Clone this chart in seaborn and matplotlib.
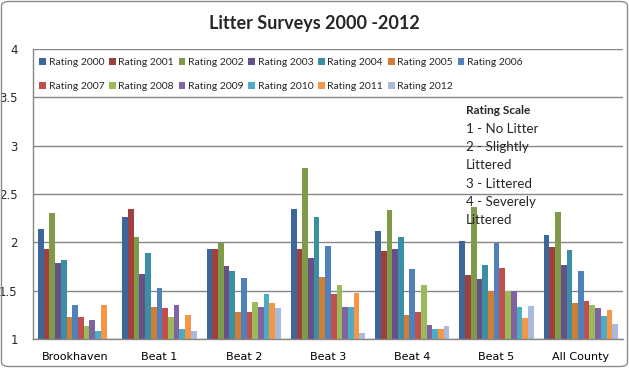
import numpy as np
import pandas as pd
import matplotlib
matplotlib.use('Agg')
import matplotlib.pyplot as plt
import seaborn as sns
from matplotlib.patches import Patch, FancyBboxPatch

# Areas surveyed
areas = ['Brookhaven', 'Beat 1', 'Beat 2', 'Beat 3', 'Beat 4', 'Beat 5', 'All County']
years = ['Rating 2000', 'Rating 2001', 'Rating 2002', 'Rating 2003', 'Rating 2004',
         'Rating 2005', 'Rating 2006', 'Rating 2007', 'Rating 2008', 'Rating 2009',
         'Rating 2010', 'Rating 2011', 'Rating 2012']

# Average rating per area, one list per year
r2000 = [2.14, 2.26, 1.93, 2.35, 2.12, 2.01, 2.08]
r2001 = [1.93, 2.35, 1.93, 1.93, 1.91, 1.66, 1.95]
r2002 = [2.30, 2.06, 1.99, 2.77, 2.33, 2.37, 2.31]
r2003 = [1.79, 1.67, 1.76, 1.84, 1.93, 1.62, 1.77]
r2004 = [1.82, 1.89, 1.70, 2.26, 2.06, 1.77, 1.92]
r2005 = [1.23, 1.33, 1.28, 1.64, 1.25, 1.50, 1.37]
r2006 = [1.35, 1.53, 1.63, 1.96, 1.72, 1.99, 1.70]
r2007 = [1.23, 1.32, 1.28, 1.47, 1.28, 1.73, 1.39]
r2008 = [1.13, 1.23, 1.38, 1.56, 1.56, 1.50, 1.35]
r2009 = [1.20, 1.35, 1.33, 1.33, 1.15, 1.50, 1.32]
r2010 = [1.08, 1.10, 1.47, 1.33, 1.10, 1.33, 1.24]
r2011 = [1.35, 1.25, 1.37, 1.48, 1.10, 1.22, 1.30]
r2012 = [np.nan, 1.08, 1.32, 1.06, 1.13, 1.34, 1.16]

scale_title = 'Rating Scale'
scale_lines = ['1 - No Litter', '2 - Slightly', 'Littered', '3 - Littered',
               '4 - Severely', 'Littered']

colors = ['#3d679c', '#9e403d', '#7f9a48', '#674f87', '#3b8fa5', '#d07d38',
          '#4f81bd', '#c0504d', '#9bbb59', '#8064a2', '#4bacc6', '#f79646', '#a9bbdc']

series = [r2000, r2001, r2002, r2003, r2004, r2005, r2006,
          r2007, r2008, r2009, r2010, r2011, r2012]
rows = []
for yr, vals in zip(years, series):
    for area, v in zip(areas, vals):
        rows.append({'area': area, 'year': yr, 'rating': v})
df = pd.DataFrame(rows)

sns.set_style('white')
plt.rcParams['font.family'] = ['DejaVu Sans']

fig = plt.figure(figsize=(6.29, 3.68), dpi=100)
ax = fig.add_axes([33 / 629, 29 / 368, 590 / 629, 290 / 368])

sns.barplot(data=df, x='area', y='rating', hue='year', order=areas, hue_order=years,
            palette=colors, width=0.88, errorbar=None, legend=False, ax=ax,
            saturation=1, linewidth=0)

ax.set_ylim(1, 4)
ax.set_xlim(-0.5, len(areas) - 0.5)
ax.set_yticks(np.arange(1, 4.01, 0.5))
ax.set_yticklabels(['1', '1.5', '2', '2.5', '3', '3.5', '4'])
ax.set_xlabel('')
ax.set_ylabel('')
ax.yaxis.grid(True, color='#868686', linewidth=1)
ax.set_axisbelow(True)
for s in ['top', 'right']:
    ax.spines[s].set_visible(False)
for s in ['left', 'bottom']:
    ax.spines[s].set_color('#868686')
    ax.spines[s].set_linewidth(1)

ax.set_xticks(np.arange(-0.5, len(areas)), minor=True)
ax.tick_params(axis='x', which='major', length=0, labelsize=8, pad=9, colors='black')
ax.tick_params(axis='x', which='minor', length=5, color='#868686', width=1)
ax.tick_params(axis='y', length=4, color='#868686', width=1, labelsize=8.5, pad=7)

# legend in row-major order (matplotlib fills columns first)
order = [0, 7, 1, 8, 2, 9, 3, 10, 4, 11, 5, 12, 6]
handles = [Patch(facecolor=colors[i], edgecolor='none') for i in order]
labels = [years[i] for i in order]
ax.legend(handles, labels, ncol=7, loc='upper left', bbox_to_anchor=(0.0, 0.99),
          frameon=False, handlelength=0.65, handleheight=0.65, handletextpad=0.25,
          columnspacing=0.45, labelspacing=1.4, borderaxespad=0.2,
          prop={'family': 'Lato', 'size': 7.5})

fig.text(0.5, 1 - 23 / 368, 'Litter Surveys 2000 -2012', ha='center', va='center',
         fontsize=13, fontweight='bold', family='Lato')

fig.text(466 / 629, 1 - 111 / 368, scale_title, ha='left', va='center',
         fontsize=8.6, fontweight='bold', family='Lato')
for i, line in enumerate(scale_lines):
    fig.text(466 / 629, 1 - (129 + 18.2 * i) / 368, line, ha='left', va='center',
             fontsize=9.6, family='Lato')

fig.patches.append(FancyBboxPatch((1.5 / 629, 1.5 / 368), 626 / 629, 365 / 368,
                                  boxstyle='round,pad=0,rounding_size=0.012',
                                  transform=fig.transFigure, fill=False,
                                  edgecolor='#8c8c8c', linewidth=1))

fig.savefig('out.png', dpi=100)
